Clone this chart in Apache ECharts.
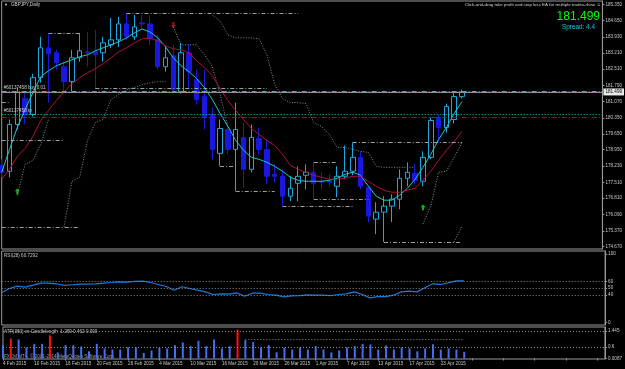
<!DOCTYPE html>
<html>
<head>
<meta charset="utf-8">
<script src="https://cdn.jsdelivr.net/npm/echarts@6/dist/echarts.min.js"></script>
<style>
html, body { margin: 0; padding: 0; background: #000; }
#main { width: 625px; height: 369px; }
</style>
</head>
<body>
<div id="main"></div>
<script>
var dates = ['4 Feb 2015','5 Feb 2015','6 Feb 2015','9 Feb 2015','10 Feb 2015','11 Feb 2015','12 Feb 2015','13 Feb 2015',
  '16 Feb 2015','17 Feb 2015','18 Feb 2015','19 Feb 2015','20 Feb 2015','23 Feb 2015','24 Feb 2015','25 Feb 2015',
  '26 Feb 2015','27 Feb 2015','2 Mar 2015','3 Mar 2015','4 Mar 2015','5 Mar 2015','6 Mar 2015','9 Mar 2015',
  '10 Mar 2015','11 Mar 2015','12 Mar 2015','13 Mar 2015','16 Mar 2015','17 Mar 2015','18 Mar 2015','19 Mar 2015',
  '20 Mar 2015','23 Mar 2015','24 Mar 2015','25 Mar 2015','26 Mar 2015','27 Mar 2015','30 Mar 2015','31 Mar 2015',
  '1 Apr 2015','2 Apr 2015','3 Apr 2015','6 Apr 2015','7 Apr 2015','8 Apr 2015','9 Apr 2015','10 Apr 2015',
  '13 Apr 2015','14 Apr 2015','15 Apr 2015','16 Apr 2015','17 Apr 2015','20 Apr 2015','21 Apr 2015','22 Apr 2015',
  '23 Apr 2015','24 Apr 2015','27 Apr 2015','28 Apr 2015'];

var opens = [178.261,177.998,180.063,181.206,180.503,182.129,183.448,183.228,182.613,181.954,
  183.009,183.272,183.272,183.228,183.580,183.800,184.503,183.932,184.547,184.503,
  183.800,182.613,183.096,181.514,183.228,182.042,181.294,180.503,178.789,179.844,
  178.965,179.492,178.085,179.448,178.965,177.866,177.778,176.899,177.470,177.822,
  177.954,177.558,177.558,177.338,177.778,177.998,178.613,177.294,175.888,176.195,
  176.459,176.767,177.690,177.910,177.558,178.613,180.371,179.932,180.283,181.294];
var closes = [177.954,180.063,181.470,180.503,182.129,183.448,183.184,182.789,181.954,183.009,
  183.316,183.228,183.140,183.668,183.800,184.503,183.932,184.371,184.503,183.844,
  182.613,183.009,181.602,183.228,182.393,181.162,180.415,178.965,179.888,178.965,
  179.844,178.085,179.492,178.965,177.778,177.778,176.899,177.250,177.778,177.954,
  177.470,177.514,177.514,177.778,177.998,178.613,177.338,176.020,176.195,176.459,
  176.767,177.690,177.954,177.602,178.613,180.239,179.932,180.855,181.294,181.499];
var lows = [177.734,177.734,179.844,180.063,180.415,181.910,181.031,182.481,181.514,181.514,
  182.833,182.613,181.646,182.833,183.448,183.492,183.800,183.800,184.327,183.580,
  182.481,182.393,181.470,181.426,181.602,180.943,179.844,178.525,178.217,178.745,
  177.118,177.294,177.954,178.745,177.426,177.514,176.459,176.679,176.679,177.206,
  176.767,177.206,177.294,176.855,177.646,177.822,177.206,175.756,175.228,174.877,
  175.756,176.327,177.338,177.426,177.338,178.525,179.272,179.712,180.107,181.206];
var highs = [178.525,180.283,181.690,181.514,182.305,183.932,184.107,183.360,182.833,183.360,
  184.107,184.151,184.239,183.932,184.767,184.811,184.987,184.899,184.899,184.899,
  184.020,183.492,183.580,183.668,183.624,182.481,182.481,180.811,180.283,180.195,
  181.031,180.151,180.063,179.932,179.404,178.305,178.085,177.778,178.217,178.305,
  178.393,177.954,177.866,178.217,179.140,179.272,178.877,177.294,176.635,176.899,
  176.987,178.085,178.393,178.305,178.877,180.371,180.503,180.987,181.514,181.602];

var fastMa = [177.954,178.965,179.932,180.723,181.470,182.173,182.437,182.657,182.789,182.921,
  183.053,183.140,183.316,183.448,183.580,183.712,183.888,184.107,184.283,184.151,
  183.888,183.492,183.009,182.657,182.393,182.085,181.690,181.162,180.547,179.976,
  179.360,178.921,178.613,178.525,178.393,178.217,177.998,177.734,177.602,177.558,
  177.558,177.558,177.602,177.690,177.866,177.954,177.822,177.338,176.899,176.723,
  176.723,176.943,177.250,177.646,178.173,178.745,179.404,179.932,180.547,181.074];
var slowMa = [177.646,178.085,178.657,179.009,179.536,180.239,180.679,181.118,181.514,181.866,
  182.129,182.349,182.525,182.745,183.009,183.272,183.448,183.668,183.844,183.888,
  183.756,183.536,183.404,183.360,183.228,182.877,182.569,182.217,181.646,181.118,
  180.679,180.283,179.888,179.624,179.360,179.140,178.745,178.261,178.085,177.954,
  177.822,177.734,177.646,177.646,177.690,177.778,177.778,177.558,177.338,177.162,
  177.074,177.074,177.162,177.250,177.602,177.998,178.481,178.921,179.316,179.756];

// trailing stop lines, one value per bar (null = not drawn)
var N = null;
var stopUpOuter = [N,N,N,N,N,N,N,N,N,N, N,N,N,N,N,N,N,N,N,N, N,N,N,N,N,N,N,184.899,184.635,184.020,
  183.888,183.888,183.888,183.844,183.140,181.822,181.206,181.031,181.031,180.987,
  180.151,179.976,179.624,179.053,179.053,178.965,178.877,178.833,178.217,178.173,
  178.173,178.173,178.173,178.173,N,N,N,N,N,N];
var stopUpInner = [N,N,N,N,N,N,N,N,N,N, N,N,N,N,N,N,N,N,N,N, N,N,184.371,183.580,183.580,183.580,183.140,182.613,181.382,179.932,
  N,N,N,N,N,N,N,N,N,N, N,N,N,N,N,N,N,N,N,N, N,N,N,N,N,N,N,N,N,N];
var stopDnInner = [N,N,176.943,178.305,178.481,179.184,180.283,N,N,N, N,N,N,N,N,N,N,N,N,N,
  N,N,N,N,N,N,N,N,N,N, N,N,N,N,N,N,N,N,N,N, N,N,N,N,N,N,N,N,N,N,
  N,N,N,N,175.668,176.459,177.954,177.998,178.613,179.272];
var stopDnOuter = [N,N,N,N,N,N,N,N,175.536,177.558, 177.734,179.360,180.151,180.283,181.162,181.382,181.602,181.690,181.822,181.910,
  181.954,181.954,N,N,N,N,N,N,N,N, N,N,N,N,N,N,N,N,N,N, N,N,N,N,N,N,N,N,N,N,
  N,N,N,N,N,N,N,N,174.877,175.580];

// fractal levels: [first bar, last bar, price]
var levels = [[16, 38, 184.987], [6, 10, 184.107], [12, 34, 181.646], [0, 8, 179.360],
  [0, 10, 175.536], [0, 1, 181.031], [40, 43, 178.393], [40, 47, 176.767],
  [36, 45, 176.459], [45, 59, 179.272], [49, 59, 174.877], [28, 30, 178.217], [30, 35, 177.118]];

var rsi = [43.7,49.5,53.0,51.5,54.4,57.4,57.4,56.4,54.0,55.0,
  56.0,56.0,56.4,57.4,58.3,59.3,58.8,59.8,60.3,58.3,
  55.4,52.4,47.0,52.0,49.5,47.0,44.6,40.7,41.7,41.2,
  43.1,38.2,42.6,42.6,40.7,39.7,37.2,38.7,39.2,40.2,
  39.7,39.7,39.2,40.7,41.7,44.6,40.7,35.8,37.7,37.7,
  39.7,44.6,45.6,44.6,50.5,56.4,55.4,57.8,60.7,60.73];

var candleLen = [0.70,1.05,1.00,0.58,0.77,0.77,1.22,0.32,0.70,0.70,
  0.63,0.38,0.77,0.53,0.47,0.47,0.59,0.59,0.29,0.42,
  0.56,0.53,0.70,0.84,0.65,0.93,0.65,1.00,0.53,0.65,
  1.52,0.96,0.87,0.59,0.70,0.33,0.58,0.47,0.58,0.47,
  0.65,0.47,0.32,0.42,0.58,0.65,0.77,0.74,0.47,0.68,
  0.47,0.58,0.53,0.38,0.53,0.75,0.47,0.53,0.47,0.35];
var bigCandles = [1, 6, 30];
var atrLine = [31, 59, 1.014];

var priceTicks = [185.350,184.650,183.930,183.210,182.510,181.790,181.070,180.350,
  179.650,178.950,178.230,177.510,176.810,176.090,175.370,174.670];
var rsiTicks = [100, 60, 50, 40, 0];
var rsiLevels = [60, 50, 40];
var atrTicks = [1.445, 0.6, 0.0087];
var atrLevels = [1.445, 0.6];

var bidPrice = 181.499;
var orderPrice = 181.514;
var targetPrice = 180.534;
var stopPrice = 180.402;

var buyArrows = [[2, 177.12], [54, 176.41]];
var sellArrows = [[22, 184.46]];

var font = 'Liberation Sans';
var slots = dates.slice();
while (slots.length < 78) slots.push('');
var candles = dates.map(function (d, i) {
  return [opens[i], closes[i], lows[i], highs[i]];
});

function xAxisFor(g, withLabels) {
  return {
    gridIndex: g, type: 'category', data: slots, boundaryGap: false,
    axisLine: { show: false },
    axisTick: { show: withLabels, interval: 3, length: 2, lineStyle: { color: '#9a9a9a' } },
    axisLabel: { show: withLabels, interval: 3, align: 'left', margin: 2, color: '#c8c8c8',
      fontSize: 4.6, fontFamily: font },
    splitLine: { show: false }
  };
}
function yAxisFor(g, min, max, ticks, fmt) {
  return {
    gridIndex: g, type: 'value', position: 'right', min: min, max: max, scale: true,
    splitLine: { show: false },
    axisLine: { show: true, lineStyle: { color: '#9a9a9a' } },
    axisTick: { show: true, customValues: ticks, length: 2, lineStyle: { color: '#9a9a9a' } },
    axisLabel: { customValues: ticks, formatter: fmt, color: '#c8c8c8', fontSize: 4.6,
      fontFamily: font, margin: 3 }
  };
}
function stopLine(data, color) {
  return { type: 'line', xAxisIndex: 0, yAxisIndex: 0, data: data, symbol: 'none', connectNulls: false,
    lineStyle: { color: color, width: 1, type: [1, 1.6] } };
}

var chart = echarts.init(document.getElementById('main'));
var gridStyle = { show: true, borderColor: '#9a9a9a', borderWidth: 1 };

var option = {
  backgroundColor: '#000',
  animation: false,
  grid: [
    Object.assign({ left: 1.7, right: 19.9, top: 1, height: 248 }, gridStyle),
    Object.assign({ left: 1.7, right: 19.9, top: 251, height: 74 }, gridStyle),
    Object.assign({ left: 1.7, right: 19.9, top: 327, height: 32 }, gridStyle)
  ],
  xAxis: [xAxisFor(0, false), xAxisFor(1, false), xAxisFor(2, true)],
  yAxis: [
    yAxisFor(0, 174.569, 185.514, priceTicks, function (v) { return v.toFixed(3); }),
    yAxisFor(1, -3.95, 104.4, rsiTicks, function (v) { return String(v); }),
    yAxisFor(2, -0.026, 1.655, atrTicks, function (v) { return String(v); })
  ],
  graphic: [
    { type: 'text', left: 4, top: 3, style: { text: '\u25BC', fill: '#d0d0d0', font: '4px ' + font } },
    { type: 'text', left: 11, top: 2.5, style: { text: 'GBPJPY,Daily', fill: '#d0d0d0', font: '4.6px ' + font } },
    { type: 'text', right: 24, top: 3, style: { text: 'Click-and-drag take profit and stop loss EA for multiple trades-rhino \u263A',
      fill: '#d0d0d0', font: '4.4px ' + font } },
    { type: 'text', right: 25, top: 11, style: { text: '181.499', fill: '#00ff00', font: '12px ' + font } },
    { type: 'text', right: 30, top: 24, style: { text: 'Spread: 4.4', fill: '#20c8e8', font: '6.4px ' + font } },
    { type: 'text', left: 4, top: 253, style: { text: 'RSI(28) 60.7292', fill: '#c8c8c8', font: '4.6px ' + font } },
    { type: 'text', left: 4, top: 329, style: { text: 'ATR(360) vs Candlelength  1.269 0.462 0.000', fill: '#c8c8c8', font: '4.6px ' + font } },
    { type: 'text', left: 4, top: 354, style: { text: 'FXCM MT4, \u00A9 2001-2014 MetaQuotes Software Corp.', fill: '#a0a0a0', font: '4.6px ' + font } }
  ],
  series: [
    {
      type: 'candlestick', xAxisIndex: 0, yAxisIndex: 0, data: candles, barWidth: 5, z: 3,
      itemStyle: { color: '#000', color0: '#1818e0', borderColor: '#1ea8e0', borderColor0: '#1818e0', borderWidth: 1 },
      markLine: {
        symbol: 'none', silent: true, animation: false,
        data: [
          { yAxis: orderPrice, lineStyle: { color: '#10c8c8', type: [5, 2, 1, 2], width: 1 },
            label: { show: true, position: 'insideStartTop', formatter: '#60137458 buy 0.01', color: '#d0d0d0', fontSize: 4.6, fontFamily: font, distance: [2, 1] } },
          { yAxis: bidPrice, lineStyle: { color: '#909090', type: 'solid', width: 1 },
            label: { show: true, position: 'end', formatter: bidPrice.toFixed(3), color: '#000', backgroundColor: '#e8e8e8', fontSize: 4.6, fontFamily: font, padding: [1, 2], distance: 1 } },
          { yAxis: targetPrice, lineStyle: { color: '#10c8c8', type: [1, 2], width: 1 },
            label: { show: true, position: 'insideStartTop', formatter: '#60137458 tp', color: '#d0d0d0', fontSize: 4.6, fontFamily: font, distance: [2, 1] } },
          { yAxis: targetPrice, lineStyle: { opacity: 0 },
            label: { show: true, position: 'end', formatter: targetPrice.toFixed(3), color: '#000', backgroundColor: '#10d8d8', fontSize: 4.6, fontFamily: font, padding: [1, 2], distance: 1 } },
          { yAxis: stopPrice, lineStyle: { color: '#a01030', type: [5, 2, 1, 2], width: 1 }, label: { show: false } }
        ]
      }
    },
    {
      type: 'line', xAxisIndex: 0, yAxisIndex: 0, data: [], symbol: 'none',
      markLine: { symbol: 'none', silent: true, label: { show: false },
        lineStyle: { color: '#a0a0a0', type: [4, 2, 1, 2], width: 1 },
        data: levels.map(function (l) { return [{ coord: [dates[l[0]], l[2]] }, { coord: [dates[l[1]], l[2]] }]; }) }
    },
    stopLine(stopUpOuter, '#8c8c8c'),
    stopLine(stopUpInner, '#7c9cb0'),
    stopLine(stopDnInner, '#7c9cb0'),
    stopLine(stopDnOuter, '#8c8c8c'),
    { type: 'line', xAxisIndex: 0, yAxisIndex: 0, data: fastMa, symbol: 'none', z: 4, lineStyle: { color: '#20c8c8', width: 1 } },
    { type: 'line', xAxisIndex: 0, yAxisIndex: 0, data: slowMa, symbol: 'none', z: 4, lineStyle: { color: '#b0103a', width: 1 } },
    { type: 'scatter', xAxisIndex: 0, yAxisIndex: 0, data: buyArrows, symbol: 'path://M5 0 L10 5 L7 5 L7 10 L3 10 L3 5 L0 5 Z', symbolSize: [5, 6], itemStyle: { color: '#10e010' } },
    { type: 'scatter', xAxisIndex: 0, yAxisIndex: 0, data: sellArrows, symbol: 'path://M5 10 L10 5 L7 5 L7 0 L3 0 L3 5 L0 5 Z', symbolSize: [5, 6], itemStyle: { color: '#e01010' } },
    {
      type: 'line', xAxisIndex: 1, yAxisIndex: 1, data: rsi, symbol: 'none', lineStyle: { color: '#1e78d8', width: 1.2 },
      markLine: { symbol: 'none', silent: true, label: { show: false },
        lineStyle: { color: '#8a8a8a', type: [1, 2], width: 1 },
        data: rsiLevels.map(function (v) { return { yAxis: v }; }) }
    },
    {
      type: 'bar', xAxisIndex: 2, yAxisIndex: 2, data: candleLen, barWidth: 2,
      itemStyle: { color: function (p) { return bigCandles.indexOf(p.dataIndex) >= 0 ? '#ff1010' : '#4070f0'; } },
      markLine: { symbol: 'none', silent: true, label: { show: false },
        lineStyle: { color: '#8a8a8a', type: [1, 2], width: 1 },
        data: atrLevels.map(function (v) { return { yAxis: v }; }).concat([
          [{ coord: [dates[atrLine[0]], atrLine[2]] }, { coord: [dates[atrLine[1]], atrLine[2]] }]
        ]) }
    }
  ]
};
chart.setOption(option);
</script>
</body>
</html>
